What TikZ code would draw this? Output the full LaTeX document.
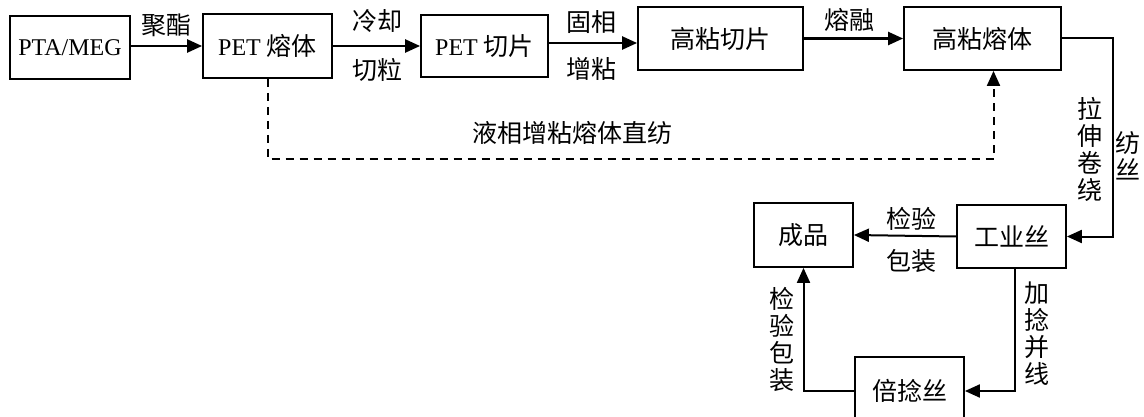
\documentclass[tikz,border=0pt]{standalone}
\usepackage{fontspec}
\setmainfont{Liberation Serif}
\newfontfamily\cjk{Noto Sans CJK SC}
\usetikzlibrary{arrows.meta}
\begin{document}
\begin{tikzpicture}[x=1pt,y=-1pt,
  box/.style={draw,line width=1.8pt,inner sep=0pt,font=\fontsize{24}{27}\selectfont},
  lbl/.style={inner sep=0pt,font=\cjk\fontsize{25}{27}\selectfont},
  vlbl/.style={inner sep=0pt,align=center,font=\cjk\fontsize{25}{27}\selectfont},
  arr/.style={line width=2.4pt,-{Triangle[length=15pt,width=13pt]}},
  conn/.style={line width=2pt,-{Triangle[length=15pt,width=13pt]}},
  dashconn/.style={line width=2pt,dash pattern=on 8pt off 6pt,-{Triangle[length=15pt,width=13pt]}}]
\clip (0,0) rectangle (1144,417);
\fill[white] (0,0) rectangle (1144,417);
% boxes
\node[box,minimum width=120pt,minimum height=63pt] (A) at (70,47.5) {PTA/MEG};
\node[box,minimum width=129pt,minimum height=64pt] (B) at (267.5,46) {PET {\cjk\fontsize{25}{27}\selectfont 熔体}};
\node[box,minimum width=127pt,minimum height=62pt] (C) at (484.5,46) {PET {\cjk\fontsize{25}{27}\selectfont 切片}};
\node[box,minimum width=165pt,minimum height=63pt,font=\cjk\fontsize{25}{27}\selectfont] (D) at (720.5,38.5) {高粘切片};
\node[box,minimum width=157pt,minimum height=63pt,font=\cjk\fontsize{25}{27}\selectfont] (E) at (982.5,38.5) {高粘熔体};
\node[box,minimum width=109pt,minimum height=63pt,font=\cjk\fontsize{25}{27}\selectfont] (F) at (1011.5,236.5) {工业丝};
\node[box,minimum width=99pt,minimum height=64pt,font=\cjk\fontsize{25}{27}\selectfont] (G) at (803.5,235) {成品};
\node[box,minimum width=109pt,minimum height=68pt,font=\cjk\fontsize{25}{27}\selectfont] (H) at (909.5,391) {倍捻丝};
% connectors
\draw[arr] (A.east |- 0,46) -- (B.west |- 0,46);
\draw[arr] (B.east) -- (C.west);
\draw[arr] ([yshift=3pt]C.east) -- ([yshift=3pt]C.east -| D.west);
\draw[arr] (D.east) -- (E.west);
\draw[conn] (E.east) -- ++(51,0) |- (F.east);
\draw[conn] (F.west) -- (G.east);
\draw[conn] ([xshift=3.5pt]F.south) |- (H.east);
\draw[conn] (H.west) -| (G.south);
\draw[dashconn] (B.south) -- ++(0,80) -| ([xshift=11pt]E.south);
% labels
\node[lbl] (l1) at (166,25) {聚酯};
\node[lbl] (l2) at (377,21) {冷却};
\node[lbl] (l3) at (377,70) {切粒};
\node[lbl] (l4) at (591,22) {固相};
\node[lbl] (l5) at (591,69) {增粘};
\node[lbl] (l6) at (849,20) {熔融};
\node[lbl] (l7) at (572,133) {液相增粘熔体直纺};
\node[vlbl] (l8) at (1090,149) {拉\\伸\\卷\\绕};
\node[vlbl] (l9) at (1128,156) {纺\\丝};
\node[lbl] (l10) at (911,219) {检验};
\node[lbl] (l11) at (911,261) {包装};
\node[vlbl] (l12) at (1037,334) {加\\捻\\并\\线};
\node[vlbl] (l13) at (782,339) {检\\验\\包\\装};
\end{tikzpicture}
\end{document}
